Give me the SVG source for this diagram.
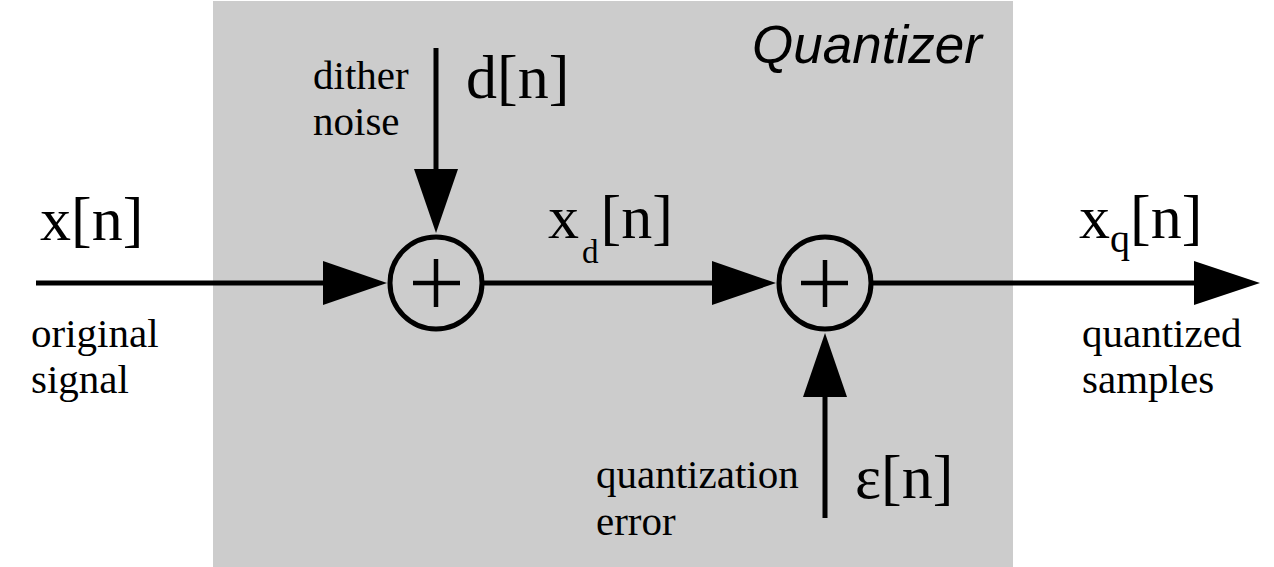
<svg xmlns="http://www.w3.org/2000/svg" width="1274" height="567" viewBox="0 0 1274 567">
<style>
.serif{font-family:"Liberation Serif","Times New Roman",serif;fill:#000}
.big{font-size:62px}
.lbl{font-size:41px}
.sub{font-size:40px}
.subs{font-size:33px}
.title{font-family:"Liberation Sans",Arial,sans-serif;font-style:italic;font-size:53px;fill:#000}
.ln{stroke:#000;stroke-width:5;fill:none}
.sum{stroke:#000;stroke-width:5;fill:none}
.plus{stroke:#000;stroke-width:4.5;fill:none}
.head{fill:#000}
</style>
<rect width="1274" height="567" fill="#fff"/>
<g id="quantizer">
<rect x="213" y="1" width="800" height="566" fill="#cccccc"/>
<text class="title" x="752" y="63">Quantizer</text>
</g>
<g id="connectors">
<line class="ln" x1="36" y1="283" x2="330" y2="283"/>
<polygon class="head" points="323,261 387,283 323,305"/>
<line class="ln" x1="484" y1="283" x2="718" y2="283"/>
<polygon class="head" points="712,261 776,283 712,305"/>
<line class="ln" x1="873" y1="283" x2="1200" y2="283"/>
<polygon class="head" points="1194,261 1260,283 1194,305"/>
<line class="ln" x1="436" y1="48" x2="436" y2="176"/>
<polygon class="head" points="414,169 458,169 436,233"/>
<line class="ln" x1="825" y1="518" x2="825" y2="390"/>
<polygon class="head" points="803,397 847,397 825,333"/>
</g>
<g id="sum1">
<circle class="sum" cx="436" cy="283" r="46"/>
<line class="plus" x1="413" y1="283" x2="460" y2="283"/>
<line class="plus" x1="436" y1="259" x2="436" y2="307"/>
</g>
<g id="sum2">
<circle class="sum" cx="825" cy="283" r="46"/>
<line class="plus" x1="801" y1="283" x2="848" y2="283"/>
<line class="plus" x1="825" y1="260" x2="825" y2="307"/>
</g>
<g id="input">
<text class="serif big" x="40" y="240">x[n]</text>
<text class="serif lbl" x="31" y="347">original</text>
<text class="serif lbl" x="31" y="393">signal</text>
</g>
<g id="dither">
<text class="serif lbl" x="313" y="89">dither</text>
<text class="serif lbl" x="313" y="135">noise</text>
<text class="serif big" x="466" y="98">d[n]</text>
</g>
<g id="xd">
<text class="serif big" x="548" y="238">x<tspan class="subs" dx="3" dy="25">d</tspan><tspan dx="2" dy="-25">[n]</tspan></text>
</g>
<g id="error">
<text class="serif lbl" x="596" y="488">quantization</text>
<text class="serif lbl" x="596" y="535">error</text>
<text class="serif big" x="855" y="498">ε[n]</text>
</g>
<g id="output">
<text class="serif big" x="1079" y="238">x<tspan class="sub" dy="14">q</tspan><tspan dy="-14">[n]</tspan></text>
<text class="serif lbl" x="1082" y="347">quantized</text>
<text class="serif lbl" x="1082" y="393">samples</text>
</g>
</svg>
